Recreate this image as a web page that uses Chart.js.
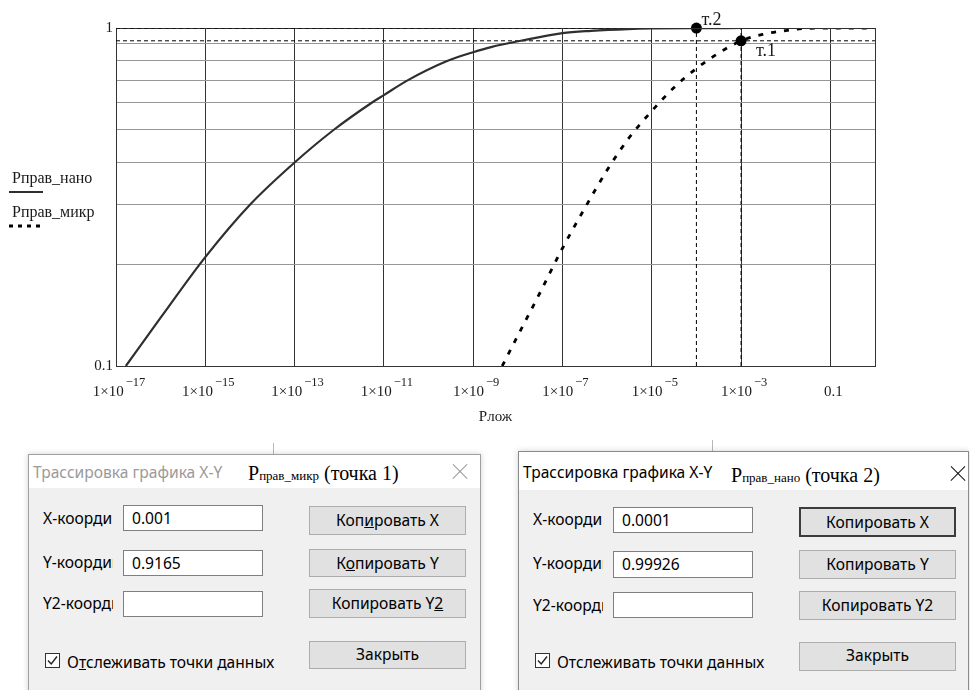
<!DOCTYPE html>
<html>
<head>
<meta charset="utf-8">
<script src="https://cdn.jsdelivr.net/npm/chart.js@4.4.1/dist/chart.umd.min.js"></script>
<style>
html,body{margin:0;padding:0;background:#fff;}
body{position:relative;width:970px;height:690px;overflow:hidden;}
#c{position:absolute;left:0;top:0;}
.dlg{position:absolute;background:#f0f0f0;border:1px solid #a0a0a0;box-shadow:0 0 6px rgba(0,0,0,0.18);}
.tb{position:absolute;background:#fff;}
.ui{position:absolute;font-family:"Noto Sans",sans-serif;font-size:15.6px;color:#000;white-space:nowrap;line-height:20px;}
.lbl{overflow:hidden;}
.inp{position:absolute;background:#fff;border:1px solid #7f7f7f;box-sizing:border-box;font-family:"Noto Sans",sans-serif;font-size:15.6px;line-height:24px;padding-left:8px;}
.btn{position:absolute;background:#e1e1e1;border:1px solid #adadad;box-sizing:border-box;font-family:"Noto Sans",sans-serif;font-size:15.6px;text-align:center;}
.btn.focus{border:2px solid #3c3c3c;}
.pt{position:absolute;font-family:"Liberation Serif",serif;font-size:20px;color:#000;white-space:nowrap;line-height:24px;}
.pt .sub{font-size:13px;}
.x{position:absolute;width:16px;height:16px;}
.x:before,.x:after{content:"";position:absolute;left:-2px;top:7px;width:20px;height:1.2px;background:currentColor;}
.x:before{transform:rotate(45deg);}
.x:after{transform:rotate(-45deg);}
.cb{position:absolute;width:15px;height:15px;border:1px solid #333;box-sizing:border-box;background:#fff;}
.vl{position:absolute;width:1px;background:#b8b8b8;}
</style>
</head>
<body>
<canvas id="c" width="970" height="440"></canvas>

<!-- stray window edges above the dialogs -->
<div class="vl" style="left:273px;top:443px;height:11px;"></div>
<div class="vl" style="left:712px;top:440px;height:11px;"></div>

<!-- Dialog 1 (inactive) -->
<div class="dlg" style="left:28px;top:454px;width:451px;height:260px;"></div>
<div class="tb" style="left:29px;top:455px;width:451px;height:33px;"></div>
<div class="ui" style="left:33px;top:462px;color:#9a9a9a;">Трассировка графика X-Y</div>
<div class="pt" style="left:248px;top:461px;">P<span class="sub">прав_микр</span> (точка 1)</div>
<div class="x" style="left:452px;top:464px;color:#9a9a9a;"></div>
<div class="ui lbl" style="left:43px;top:508px;width:70px;">X-координата</div>
<div class="ui lbl" style="left:43px;top:552px;width:70px;">Y-координата</div>
<div class="ui lbl" style="left:43px;top:593px;width:70px;">Y2-координата</div>
<div class="inp" style="left:123px;top:505px;width:140px;height:26px;">0.001</div>
<div class="inp" style="left:123px;top:550px;width:140px;height:26px;">0.9165</div>
<div class="inp" style="left:123px;top:591px;width:140px;height:26px;"></div>
<div class="btn" style="left:309px;top:506px;width:157px;height:29px;line-height:27px;">Коп<u>и</u>ровать X</div>
<div class="btn" style="left:309px;top:549px;width:157px;height:28px;line-height:26px;">К<u>о</u>пировать Y</div>
<div class="btn" style="left:309px;top:589px;width:157px;height:29px;line-height:27px;">Копировать Y<u>2</u></div>
<div class="btn" style="left:309px;top:641px;width:157px;height:28px;line-height:24px;">Закрыть</div>
<div class="cb" style="left:45px;top:653px;"><svg width="13" height="13" style="position:absolute;left:0;top:0"><polyline points="2,6.5 5.2,10 11,2.5" fill="none" stroke="#222" stroke-width="1.4"/></svg></div>
<div class="ui" style="left:67px;top:652px;">О<u>т</u>слеживать точки данных</div>

<!-- Dialog 2 (active) -->
<div class="dlg" style="left:518px;top:451px;width:449px;height:260px;border-color:#8a8a8a;"></div>
<div class="tb" style="left:519px;top:452px;width:449px;height:38px;"></div>
<div class="ui" style="left:523px;top:462px;color:#000;">Трассировка графика X-Y</div>
<div class="pt" style="left:731px;top:463px;">P<span class="sub">прав_нано</span> (точка 2)</div>
<div class="x" style="left:950px;top:466px;color:#111;"></div>
<div class="ui lbl" style="left:533px;top:509px;width:70px;">X-координата</div>
<div class="ui lbl" style="left:533px;top:553px;width:70px;">Y-координата</div>
<div class="ui lbl" style="left:533px;top:595px;width:70px;">Y2-координата</div>
<div class="inp" style="left:613px;top:507px;width:140px;height:26px;">0.0001</div>
<div class="inp" style="left:613px;top:551px;width:140px;height:27px;">0.99926</div>
<div class="inp" style="left:613px;top:592px;width:140px;height:26px;"></div>
<div class="btn focus" style="left:799px;top:507px;width:157px;height:30px;line-height:26px;">Копировать X</div>
<div class="btn" style="left:799px;top:550px;width:157px;height:29px;line-height:27px;">Копировать Y</div>
<div class="btn" style="left:799px;top:591px;width:157px;height:29px;line-height:27px;">Копировать Y2</div>
<div class="btn" style="left:799px;top:642px;width:157px;height:29px;line-height:25px;">Закрыть</div>
<div class="cb" style="left:535px;top:653px;"><svg width="13" height="13" style="position:absolute;left:0;top:0"><polyline points="2,6.5 5.2,10 11,2.5" fill="none" stroke="#222" stroke-width="1.4"/></svg></div>
<div class="ui" style="left:557px;top:652px;">Отслеживать точки данных</div>

<script>
// ---------- data ----------
const seriesNames = ['Pправ_нано', 'Pправ_микр'];
const xAxisTitle = 'Pлож';

// Pправ_нано (solid)
const nanoX = [1.66e-17, 1e-16, 1e-15, 1e-14, 1e-13, 7.59e-13, 5.25e-12, 1e-11, 3.39e-11, 2.69e-10, 1e-9, 2.51e-9, 1.17e-8, 1e-7, 4.37e-7, 2.95e-6, 1e-5, 1e-4, 1e-3, 1e-2, 0.1, 1];
const nanoY = [0.1, 0.139, 0.21, 0.30, 0.40, 0.50, 0.60, 0.633, 0.70, 0.80, 0.848, 0.878, 0.917, 0.966, 0.981, 0.993, 0.997, 0.99926, 0.9999, 1, 1, 1];

// Pправ_микр (dashed)
const mikrX = [4.47e-9, 1e-8, 3.16e-8, 1e-7, 3.16e-7, 1e-6, 3.16e-6, 1e-5, 3.16e-5, 1e-4, 3.16e-4, 1e-3, 3.16e-3, 1e-2, 3.16e-2, 0.1, 1];
const mikrY = [0.1, 0.123, 0.165, 0.223, 0.293, 0.38, 0.475, 0.568, 0.667, 0.759, 0.843, 0.9165, 0.958, 0.983, 0.998, 1, 1];

// trace points
const traceNames = ['т.1', 'т.2'];
const traceX = [0.001, 0.0001];
const traceY = [0.9165, 0.99926];

// axes
const xMin = 1e-17, xMax = 1;
const yMin = 0.1, yMax = 1;
const xTickValues = [1e-17, 1e-15, 1e-13, 1e-11, 1e-9, 1e-7, 1e-5, 1e-3, 0.1, 1];
const xTickMain = ['1×10', '1×10', '1×10', '1×10', '1×10', '1×10', '1×10', '1×10', '0.1', ''];
const xTickSup = ['−17', '−15', '−13', '−11', '−9', '−7', '−5', '−3', '', ''];
const yTickValues = [0.1, 0.2, 0.3, 0.4, 0.5, 0.6, 0.7, 0.8, 0.9, 1];
const yTickLabels = ['0.1', '', '', '', '', '', '', '', '', '1'];

// ---------- chart ----------
const SERIF = '"Liberation Serif", "Times New Roman", serif';
const pts = (xs, ys) => xs.map((x, i) => ({x: x, y: ys[i]}));

const datasets = [
  {label: seriesNames[0], data: pts(nanoX, nanoY), borderColor: '#2f2f2f', borderWidth: 2.2,
   pointRadius: 0, cubicInterpolationMode: 'monotone', fill: false},
  {label: seriesNames[1], data: pts(mikrX, mikrY), borderColor: '#000', borderWidth: 2.8,
   borderDash: [5, 8], borderCapStyle: 'butt', pointRadius: 0, cubicInterpolationMode: 'monotone', fill: false}
];
traceX.forEach((tx, i) => {
  datasets.push({label: 'h' + i, data: [{x: xMin, y: traceY[i]}, {x: xMax, y: traceY[i]}],
    borderColor: '#000', borderWidth: 1, borderDash: [4, 3], pointRadius: 0, tension: 0});
  datasets.push({label: 'v' + i, data: [{x: tx, y: yMin}, {x: tx, y: yMax}],
    borderColor: '#000', borderWidth: 1, borderDash: [4, 3], pointRadius: 0, tension: 0});
});
datasets.push({label: 'trace', data: pts(traceX, traceY), showLine: false, pointRadius: 5.5,
  pointBackgroundColor: '#000', pointBorderColor: '#000', pointBorderWidth: 0, clip: false});

const labelOffsets = [[15, 15], [5, -3]];

const decor = {
  id: 'decor',
  afterDatasetsDraw(chart) {
    const ctx = chart.ctx;
    const meta = chart.getDatasetMeta(chart.data.datasets.length - 1);
    ctx.save();
    ctx.fillStyle = '#1a1a1a';
    ctx.font = '18px ' + SERIF;
    ctx.textBaseline = 'alphabetic';
    ctx.textAlign = 'left';
    meta.data.forEach((p, i) => {
      ctx.fillText(traceNames[i], p.x + labelOffsets[i][0], p.y + labelOffsets[i][1]);
    });
    ctx.restore();
  },
  afterDraw(chart) {
    const ctx = chart.ctx;
    const xs = chart.scales.x;
    ctx.save();
    ctx.fillStyle = '#1a1a1a';
    ctx.textBaseline = 'alphabetic';
    ctx.textAlign = 'left';
    const mainFont = '15px ' + SERIF, supFont = '12.5px ' + SERIF;
    xTickValues.forEach((v, i) => {
      const main = xTickMain[i], sup = xTickSup[i];
      if (!main) return;
      ctx.font = mainFont;
      const w1 = ctx.measureText(main).width;
      ctx.font = supFont;
      const w2 = sup ? ctx.measureText(sup).width + 2 : 0;
      const left = xs.getPixelForValue(v) + 3 - (w1 + w2) / 2;
      ctx.font = mainFont;
      ctx.fillText(main, left, 396);
      if (sup) { ctx.font = supFont; ctx.fillText(sup, left + w1 + 2, 386); }
    });
    // legend (Mathcad style: name with line sample under it)
    const legendBase = [183, 217];
    chart.data.datasets.slice(0, 2).forEach((ds, i) => {
      ctx.font = '16px ' + SERIF;
      ctx.fillStyle = '#1a1a1a';
      ctx.fillText(ds.label, 12, legendBase[i]);
      ctx.beginPath();
      ctx.strokeStyle = ds.borderColor;
      ctx.lineWidth = ds.borderWidth;
      ctx.setLineDash(ds.borderDash ? [4, 5] : []);
      ctx.moveTo(9, legendBase[i] + 9);
      ctx.lineTo(43, legendBase[i] + 9);
      ctx.stroke();
    });
    ctx.restore();
  }
};

new Chart(document.getElementById('c'), {
  type: 'line',
  data: {datasets: datasets},
  plugins: [decor],
  options: {
    responsive: false,
    animation: false,
    events: [],
    layout: {padding: {left: 0, top: 28, right: 95, bottom: 0}},
    plugins: {legend: {display: false}, tooltip: {enabled: false}},
    scales: {
      x: {
        type: 'logarithmic', min: xMin, max: xMax, position: 'bottom',
        afterBuildTicks: s => { s.ticks = xTickValues.map(v => ({value: v})); },
        afterFit: s => { s.height = 74; },
        ticks: {display: false, autoSkip: false},
        grid: {color: '#333', lineWidth: 1, drawTicks: false},
        border: {display: true, color: '#333', width: 1},
        title: {display: true, text: xAxisTitle, color: '#1a1a1a',
                font: {family: SERIF, size: 15}, padding: {top: 0, bottom: 14}}
      },
      y: {
        type: 'logarithmic', min: yMin, max: yMax,
        afterBuildTicks: s => { s.ticks = yTickValues.map(v => ({value: v})); },
        afterFit: s => { s.width = 116; },
        ticks: {autoSkip: false, padding: 3, color: '#1a1a1a', font: {family: SERIF, size: 15},
                callback: (v, i) => yTickLabels[i]},
        grid: {drawTicks: false, lineWidth: 1,
               color: c => (c.tick && (c.tick.value === yMin || c.tick.value === yMax)) ? '#333' : '#969696'},
        border: {display: true, color: '#333', width: 1}
      }
    }
  }
});
</script>
</body>
</html>
